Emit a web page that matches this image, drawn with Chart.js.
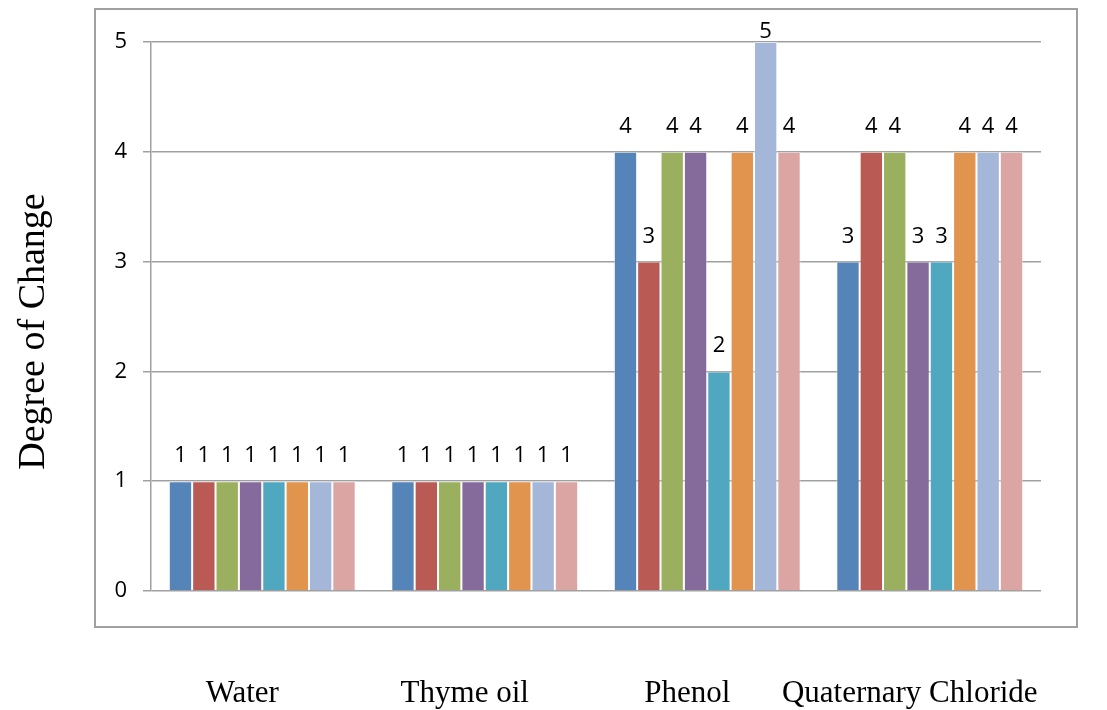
<!DOCTYPE html>
<html>
<head>
<meta charset="utf-8">
<script src="https://cdn.jsdelivr.net/npm/chart.js@4.4.1/dist/chart.umd.min.js"></script>
<style>
  html, body { margin: 0; padding: 0; background: #fff; }
  #wrap { position: relative; width: 1107px; height: 710px; }
  #frame { position: absolute; left: 94px; top: 8px; width: 980px; height: 616px; border: 2px solid #a0a0a0; }
  canvas { position: absolute; left: 0; top: 0; }
</style>
</head>
<body>
<div id="wrap">
  <div id="frame"></div>
  <canvas id="chart" width="1107" height="710"></canvas>
</div>
<script>
const categories = ["Water", "Thyme oil", "Phenol", "Quaternary Chloride"];
const seriesNames = ["Series 1", "Series 2", "Series 3", "Series 4", "Series 5", "Series 6", "Series 7", "Series 8"];
const s1 = [1, 1, 4, 3];
const s2 = [1, 1, 3, 4];
const s3 = [1, 1, 4, 4];
const s4 = [1, 1, 4, 3];
const s5 = [1, 1, 2, 3];
const s6 = [1, 1, 4, 4];
const s7 = [1, 1, 5, 4];
const s8 = [1, 1, 4, 4];
const yTicks = [0, 1, 2, 3, 4, 5];
const yTitle = "Degree of Change";

const colors = ["#5584b8", "#b95a55", "#9bb05f", "#856b9c", "#4fa7c0", "#e1944d", "#a4b7d8", "#daa5a3"];
const allSeries = [s1, s2, s3, s4, s5, s6, s7, s8];

// numbers above each bar + the rotated axis title
const extras = {
  id: "extras",
  afterDatasetsDraw(chart) {
    const ctx = chart.ctx;
    const a = chart.chartArea;
    ctx.save();
    ctx.font = "22px 'Open Sans'";
    ctx.fillStyle = "#000";
    ctx.textAlign = "center";
    ctx.textBaseline = "alphabetic";
    chart.data.datasets.forEach((ds, i) => {
      chart.getDatasetMeta(i).data.forEach((bar, j) => {
        // keep labels from running above the plot, like excel does
        ctx.fillText(ds.data[j], bar.x, Math.max(bar.y - 19, a.top - 4));
      });
    });
    ctx.translate(34, (a.top + a.bottom) / 2 + 15);
    ctx.rotate(-Math.PI / 2);
    ctx.font = "38px 'Liberation Serif'";
    ctx.textBaseline = "middle";
    ctx.fillText(yTitle, 0, 0);
    ctx.restore();
  }
};

new Chart(document.getElementById("chart"), {
  type: "bar",
  data: {
    labels: categories,
    datasets: allSeries.map((d, i) => ({
      label: seriesNames[i],
      data: d,
      backgroundColor: colors[i],
      borderColor: "rgba(255,255,255,0.45)",
      borderWidth: 1,
      categoryPercentage: 0.84,
      barPercentage: 1
    }))
  },
  options: {
    responsive: false,
    animation: false,
    layout: { padding: { left: 0, right: 66, top: 42, bottom: 0 } },
    plugins: { legend: { display: false }, tooltip: { enabled: false } },
    scales: {
      x: {
        grid: { display: false, drawTicks: false },
        border: { display: false },
        ticks: {
          padding: 84,
          labelOffset: -20,
          autoSkip: false,
          maxRotation: 0,
          color: "#000",
          font: { family: "'Liberation Serif'", size: 31 }
        },
        afterFit(scale) {
          scale.height = 119;
          scale.paddingLeft = 0;
          scale.paddingRight = 0;
        }
      },
      y: {
        min: 0,
        max: 5,
        afterBuildTicks(scale) { scale.ticks = yTicks.map(v => ({ value: v })); },
        grid: { color: "#a0a0a0", lineWidth: 1.5, tickLength: 8 },
        border: { color: "#a0a0a0", width: 1.5 },
        ticks: {
          padding: 16,
          color: "#000",
          font: { family: "'Open Sans'", size: 22 }
        },
        afterFit(scale) {
          scale.width = 151;
          scale.paddingTop = 0;
          scale.paddingBottom = 0;
        }
      }
    }
  },
  plugins: [extras]
});
</script>
</body>
</html>
